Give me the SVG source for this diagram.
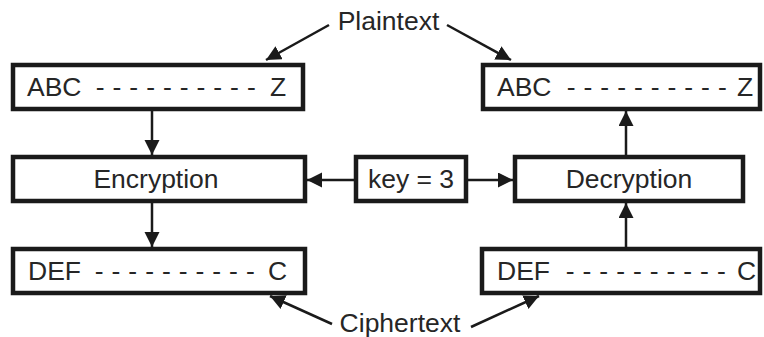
<svg xmlns="http://www.w3.org/2000/svg" width="764" height="337" viewBox="0 0 764 337">
  <style>
    .box { fill: #ffffff; stroke: #1a1a1a; stroke-width: 4.5; }
    .lbl { font-family: "Liberation Sans", Arial, sans-serif; font-size: 26.5px; fill: #262626; }
    .mid { text-anchor: middle; }
    .dash { letter-spacing: 0.3px; }
    .link { fill: none; stroke: #1a1a1a; stroke-width: 2.5; marker-end: url(#head); }
  </style>
  <defs>
    <marker id="head" markerUnits="userSpaceOnUse" markerWidth="18" markerHeight="16" refX="15" refY="7.5" orient="auto">
      <path d="M0,0 L15,7.5 L0,15 Z" fill="#1a1a1a"/>
    </marker>
  </defs>
  <rect width="764" height="337" fill="#ffffff"/>

  <!-- plaintext, sender side -->
  <g id="plain-left">
    <rect class="box" x="13" y="65" width="290" height="44"/>
    <text class="lbl" x="27" y="96">ABC</text>
    <text class="lbl dash" x="95.8" y="96">- - - - - - - - - -</text>
    <text class="lbl" x="270" y="96">Z</text>
  </g>

  <!-- plaintext, receiver side -->
  <g id="plain-right">
    <rect class="box" x="483" y="65" width="277" height="44"/>
    <text class="lbl" x="497" y="96">ABC</text>
    <text class="lbl dash" x="566.8" y="96">- - - - - - - - - -</text>
    <text class="lbl" x="737" y="96">Z</text>
  </g>

  <g id="encryption">
    <rect class="box" x="13" y="157" width="292" height="44"/>
    <text class="lbl mid" x="156" y="188">Encryption</text>
  </g>

  <g id="key">
    <rect class="box" x="356" y="157" width="110" height="44"/>
    <text class="lbl mid" x="411" y="188">key = 3</text>
  </g>

  <g id="decryption">
    <rect class="box" x="515" y="157" width="228" height="44"/>
    <text class="lbl mid" x="629" y="188">Decryption</text>
  </g>

  <!-- ciphertext, sender side -->
  <g id="cipher-left">
    <rect class="box" x="13" y="249" width="292" height="44"/>
    <text class="lbl" x="28" y="280">DEF</text>
    <text class="lbl dash" x="94.8" y="280">- - - - - - - - - -</text>
    <text class="lbl" x="268" y="280">C</text>
  </g>

  <!-- ciphertext, receiver side -->
  <g id="cipher-right">
    <rect class="box" x="482" y="249" width="278" height="44"/>
    <text class="lbl" x="497" y="280">DEF</text>
    <text class="lbl dash" x="565.8" y="280">- - - - - - - - - -</text>
    <text class="lbl" x="737" y="280">C</text>
  </g>

  <g id="plaintext-label">
    <text class="lbl mid" x="388.5" y="30">Plaintext</text>
  </g>
  <g id="ciphertext-label">
    <text class="lbl mid" x="400" y="332">Ciphertext</text>
  </g>

  <g id="connectors">
    <line class="link" x1="152" y1="111" x2="152" y2="155"/>
    <line class="link" x1="152" y1="203" x2="152" y2="247"/>
    <line class="link" x1="626" y1="247" x2="626" y2="203"/>
    <line class="link" x1="626" y1="155" x2="626" y2="111"/>
    <line class="link" x1="354" y1="180" x2="307" y2="180"/>
    <line class="link" x1="468" y1="180" x2="513" y2="180"/>
    <line class="link" x1="329" y1="25" x2="266" y2="60"/>
    <line class="link" x1="447" y1="25" x2="511" y2="60"/>
    <line class="link" x1="332" y1="324" x2="270" y2="296"/>
    <line class="link" x1="471" y1="327" x2="539" y2="296"/>
  </g>
</svg>
